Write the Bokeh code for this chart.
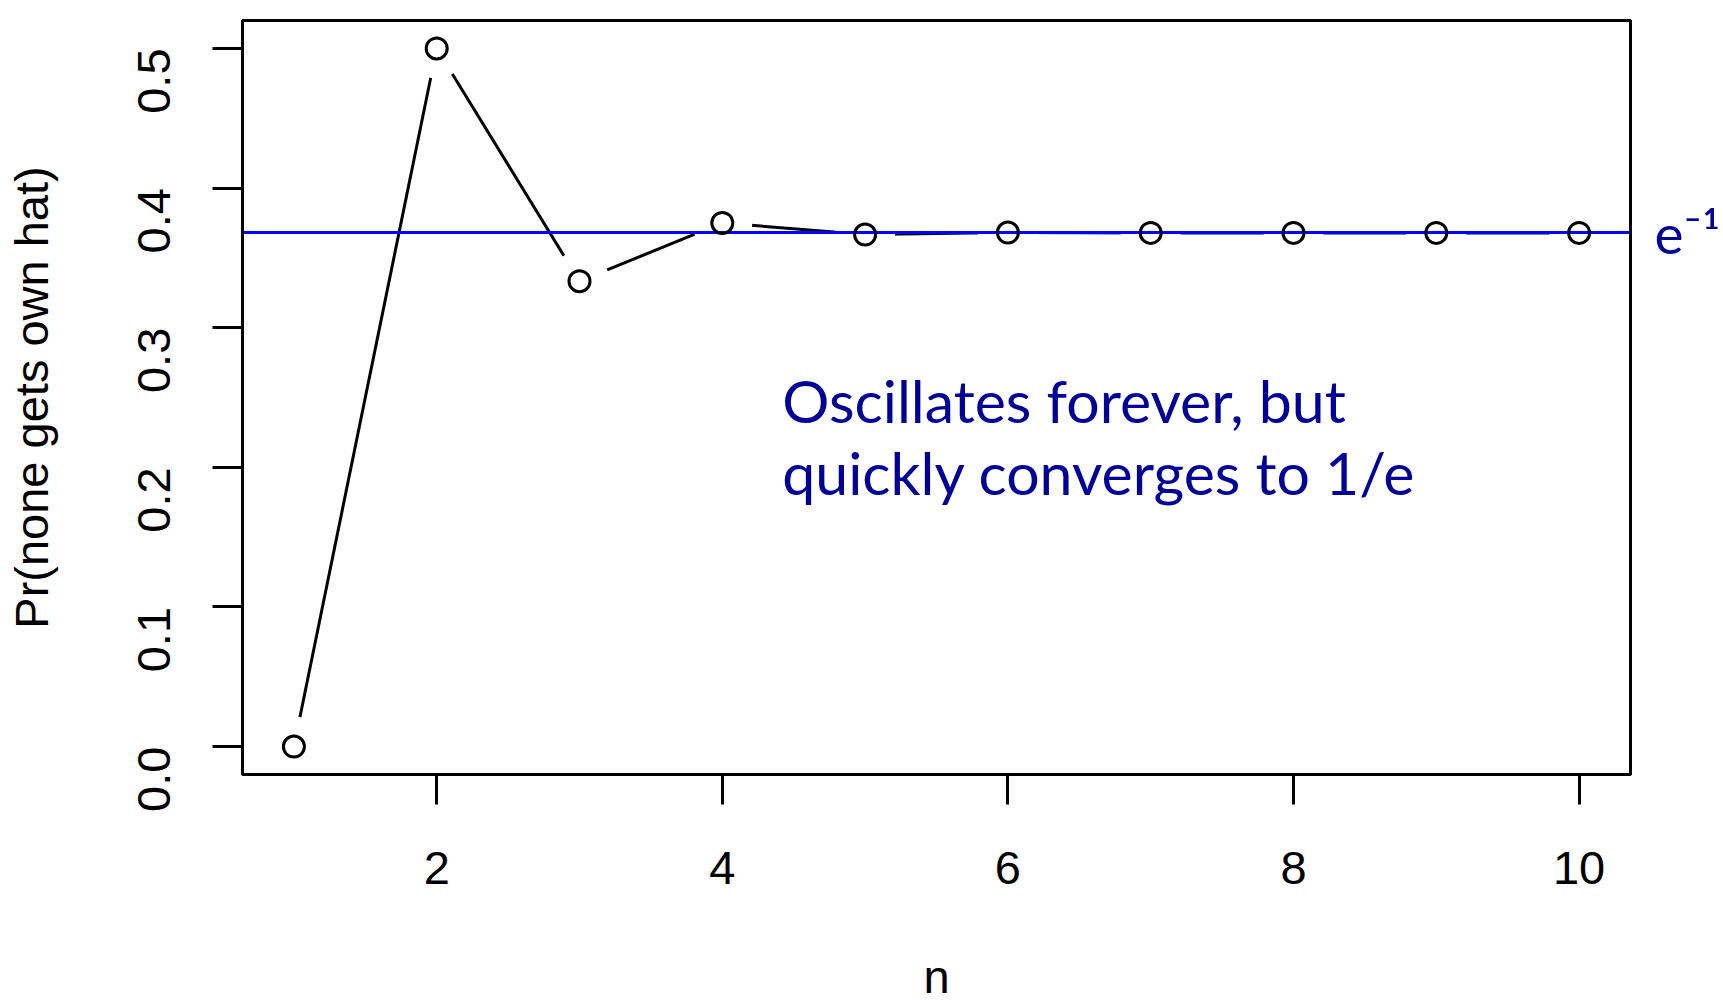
import math
from bokeh.plotting import figure
from bokeh.models import Range1d, FixedTicker, Label, LinearAxis
from bokeh.embed import file_html
from bokeh.resources import INLINE

# ---- data ----
n_values = [1, 2, 3, 4, 5, 6, 7, 8, 9, 10]
p_none = [0.0, 0.5, 0.3333, 0.375, 0.3667, 0.3681, 0.3679, 0.3679, 0.3679, 0.3679]
e_inv = math.exp(-1)
x_ticks = [2, 4, 6, 8, 10]
y_ticks = [0.0, 0.1, 0.2, 0.3, 0.4, 0.5]
y_tick_labels = ["0.0", "0.1", "0.2", "0.3", "0.4", "0.5"]
annot_lines = ["Oscillates forever, but", "quickly converges to  1/e"]
ref_label = "e\u207b\u00b9"

W, H = 1723, 1005
p = figure(width=W, height=H, output_backend="svg", toolbar_location=None,
           x_range=Range1d(0.64, 10.36), y_range=Range1d(-0.02, 0.52),
           min_border_left=242, min_border_right=93, min_border_top=20,
           min_border_bottom=231)
p.background_fill_color = "white"
p.border_fill_color = "white"
p.outline_line_color = "black"
p.outline_line_width = 3
p.xgrid.grid_line_color = None
p.ygrid.grid_line_color = None

TICK_FONT = "Liberation Sans"
for ax in (p.xaxis[0], p.yaxis[0]):
    ax.axis_line_color = "black"
    ax.axis_line_width = 3
    ax.major_tick_out = 30
    ax.major_tick_in = 0
    ax.major_tick_line_width = 3
    ax.major_tick_line_color = "black"
    ax.minor_tick_line_color = None
    ax.major_label_text_font = TICK_FONT
    ax.major_label_text_font_size = "47px"
    ax.major_label_text_color = "black"
    ax.axis_label_text_font = TICK_FONT
    ax.axis_label_text_font_size = "47px"
    ax.axis_label_text_font_style = "normal"
    ax.axis_label_text_color = "black"

p.xaxis.ticker = FixedTicker(ticks=x_ticks)
p.yaxis.ticker = FixedTicker(ticks=y_ticks)
p.yaxis.major_label_overrides = {t: l for t, l in zip(y_ticks, y_tick_labels)}
p.yaxis.major_label_orientation = math.pi / 2
p.xaxis.axis_label = "n"
p.yaxis.axis_label = "Pr(none gets own hat)"
p.xaxis.major_label_standoff = 47
p.yaxis.major_label_standoff = 58
p.xaxis.axis_label_standoff = 63
p.yaxis.axis_label_standoff = 62

ANN_FONT = "Lato"
ANN_COLOR = "#000099"

# top frame line
top_ax = LinearAxis(ticker=FixedTicker(ticks=[]), axis_line_color="black", axis_line_width=3,
                    major_tick_line_color=None, minor_tick_line_color=None,
                    major_label_text_color=None)
p.add_layout(top_ax, "above")
# right frame line + e^-1 label at the 1/e level
right_ax = LinearAxis(ticker=FixedTicker(ticks=[e_inv]), axis_line_color="black", axis_line_width=3,
                      major_tick_line_color=None, minor_tick_line_color=None,
                      major_tick_out=0, major_tick_in=0,
                      major_label_overrides={e_inv: ref_label},
                      major_label_text_font=ANN_FONT, major_label_text_font_size="55px",
                      major_label_text_color=ANN_COLOR, major_label_standoff=24)
p.add_layout(right_ax, "right")

# connecting line with gaps around points (R type="b")
p.line(n_values, p_none, line_color="black", line_width=3)
p.scatter(n_values, p_none, size=60, fill_color="white", line_color=None)
# 1/e reference line
p.hspan(y=[e_inv], line_color="#0000FF", line_width=3)
# open circles
p.scatter(n_values, p_none, size=21, fill_color=None, line_color="black", line_width=3)

p.add_layout(Label(x=4.42, y=0.248, text=annot_lines[0], text_font=ANN_FONT,
                   text_font_size="59px", text_color=ANN_COLOR, text_baseline="alphabetic"))
p.add_layout(Label(x=4.42, y=0.196, text=annot_lines[1], text_font=ANN_FONT,
                   text_font_size="59px", text_color=ANN_COLOR, text_baseline="alphabetic"))

open("out.html", "w").write(file_html(p, INLINE))
